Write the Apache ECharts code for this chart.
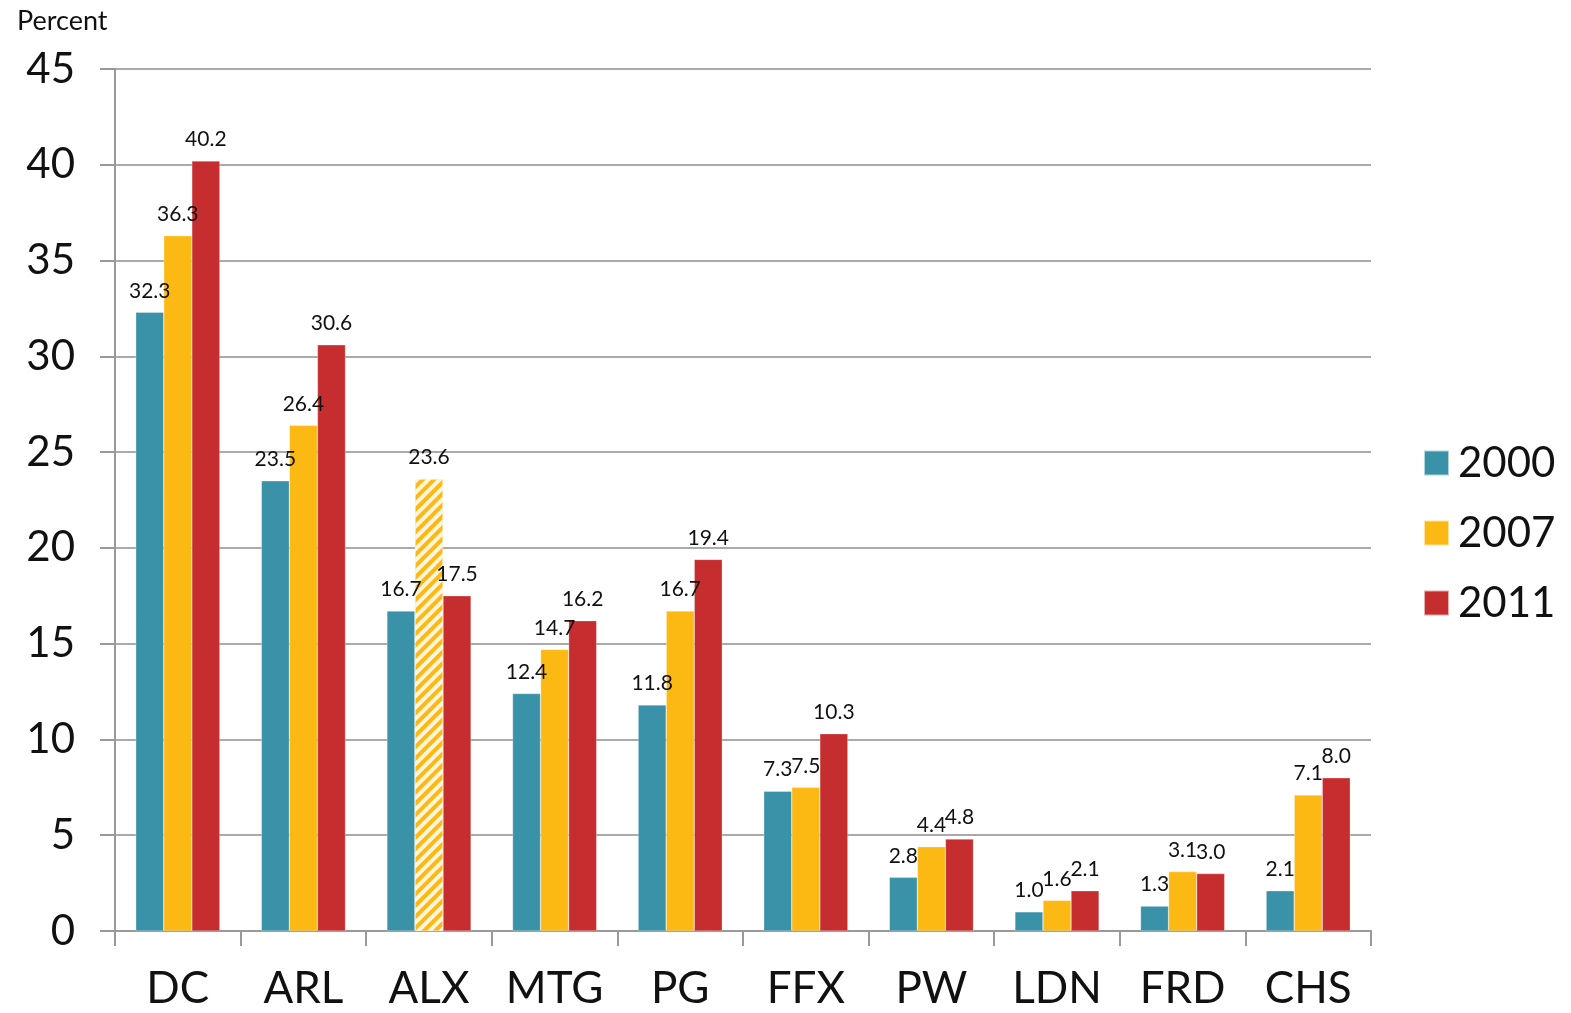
<!DOCTYPE html>
<html><head><meta charset="utf-8">
<script src="https://cdn.jsdelivr.net/npm/echarts@6/dist/echarts.min.js"></script>
<style>html,body{margin:0;padding:0;background:#fff}#c{width:1571px;height:1013px}</style>
</head><body><div id="c"></div>
<script>
const categories = ['DC','ARL','ALX','MTG','PG','FFX','PW','LDN','FRD','CHS'];
const seriesNames = ['2000','2007','2011'];
const v2000 = [32.3,23.5,16.7,12.4,11.8,7.3,2.8,1.0,1.3,2.1];
const v2007 = [36.3,26.4,23.6,14.7,16.7,7.5,4.4,1.6,3.1,7.1];
const v2011 = [40.2,30.6,17.5,16.2,19.4,10.3,4.8,2.1,3.0,8.0];
const hatchedIndex2007 = 2; // ALX 2007 drawn hatched
const colors = ['#3A92A8','#FDB913','#C52D2F'];
const font = 'Lato, "Open Sans", sans-serif';

const chart = echarts.init(document.getElementById('c'));
const label = {show:true, position:'top', distance:11, fontSize:21, color:'#111', fontFamily:font,
  formatter: p => p.value.toFixed(1)};
function mk(name, vals, color, hatchIdx){
  return {
    name, type:'bar', barGap:'0%', barCategoryGap:'33%',
    itemStyle:{color, borderColor:'rgba(255,255,255,0.6)', borderWidth:0.5},
    label,
    data: vals.map((v,i)=> i===hatchIdx ? {value:v, itemStyle:{color, decal:{
      symbol:'rect', symbolSize:1, dashArrayX:[[1,0]], dashArrayY:[4,4], rotation:-Math.PI/4, color:'rgba(255,255,255,0.85)'}}} : v)
  };
}
chart.setOption({
  animation:false,
  color: colors,
  title:{text:'Percent', left:12, top:3, textStyle:{fontSize:27, fontWeight:'normal', color:'#111', fontFamily:font}},
  legend:{orient:'vertical', left:1418, top:437, itemWidth:25, itemHeight:25, itemGap:28,
    icon:'rect', textStyle:{fontSize:42, color:'#111', fontFamily:font, padding:[0,0,0,4]}, data:seriesNames},
  grid:{left:115, right:200, top:69, bottom:82},
  xAxis:{type:'category', data:categories,
    axisLine:{lineStyle:{color:'#999', width:2}},
    axisTick:{show:true, interval:0, length:15, lineStyle:{color:'#999', width:2}},
    axisLabel:{interval:0, fontSize:44, color:'#111', fontFamily:font, margin:36}},
  yAxis:{type:'value', min:0, max:45, interval:5,
    axisLine:{show:true, lineStyle:{color:'#999', width:2}},
    axisTick:{show:true, length:15, lineStyle:{color:'#999', width:2}},
    splitLine:{lineStyle:{color:'#aaa', width:2}},
    axisLabel:{fontSize:42, color:'#111', fontFamily:font, margin:40}},
  series:[mk('2000',v2000,colors[0],-1), mk('2007',v2007,colors[1],hatchedIndex2007), mk('2011',v2011,colors[2],-1)]
});
</script></body></html>
